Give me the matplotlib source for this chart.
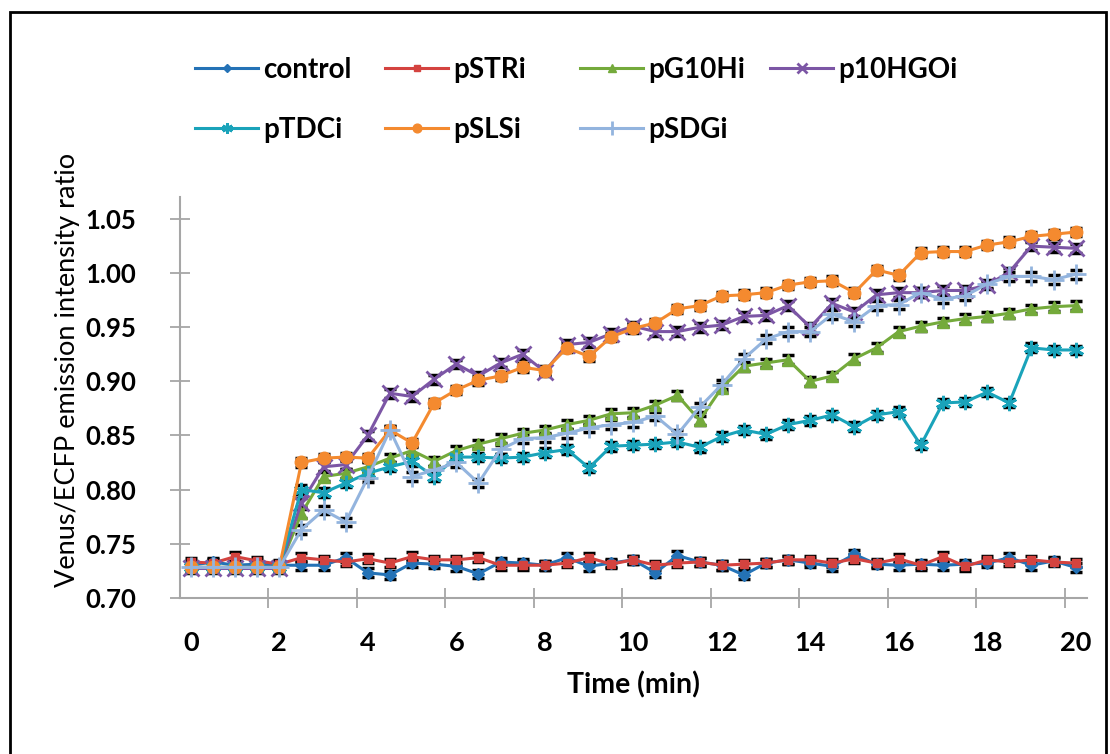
import matplotlib
matplotlib.use('Agg')
import matplotlib.pyplot as plt
import numpy as np
from matplotlib.patches import Rectangle

plt.rcParams['font.family'] = ['Lato', 'DejaVu Sans']

# time points (min), one every 0.5 min
time = [i * 0.5 for i in range(41)]

control = [0.730, 0.733, 0.730, 0.731, 0.730, 0.730, 0.730, 0.737, 0.723, 0.721,
           0.732, 0.731, 0.729, 0.722, 0.733, 0.732, 0.730, 0.737, 0.729, 0.732,
           0.735, 0.723, 0.739, 0.733, 0.730, 0.721, 0.732, 0.735, 0.732, 0.729,
           0.740, 0.731, 0.730, 0.731, 0.730, 0.731, 0.732, 0.737, 0.730, 0.734,
           0.728]
pSTRi = [0.733, 0.732, 0.738, 0.734, 0.731, 0.737, 0.735, 0.733, 0.736, 0.732,
         0.738, 0.735, 0.735, 0.737, 0.730, 0.730, 0.730, 0.732, 0.737, 0.731,
         0.735, 0.730, 0.732, 0.733, 0.730, 0.731, 0.732, 0.735, 0.735, 0.732,
         0.736, 0.732, 0.736, 0.730, 0.738, 0.729, 0.735, 0.733, 0.735, 0.733,
         0.732]
pG10Hi = [0.728, 0.728, 0.728, 0.728, 0.728, 0.778, 0.812, 0.815, 0.821, 0.829,
          0.836, 0.826, 0.836, 0.842, 0.847, 0.852, 0.855, 0.860, 0.864, 0.870,
          0.871, 0.878, 0.887, 0.864, 0.894, 0.914, 0.917, 0.920, 0.900, 0.905,
          0.921, 0.931, 0.946, 0.951, 0.955, 0.958, 0.960, 0.963, 0.967, 0.969,
          0.970]
p10HGOi = [0.727, 0.727, 0.727, 0.727, 0.727, 0.788, 0.821, 0.823, 0.850, 0.889,
           0.886, 0.902, 0.916, 0.905, 0.917, 0.925, 0.909, 0.934, 0.936, 0.944,
           0.951, 0.946, 0.946, 0.950, 0.952, 0.960, 0.961, 0.970, 0.950, 0.972,
           0.964, 0.980, 0.982, 0.982, 0.984, 0.984, 0.989, 1.001, 1.025, 1.024,
           1.023]
pTDCi = [0.728, 0.728, 0.728, 0.728, 0.728, 0.800, 0.797, 0.806, 0.815, 0.821,
         0.826, 0.812, 0.830, 0.830, 0.829, 0.830, 0.834, 0.837, 0.820, 0.840,
         0.841, 0.842, 0.844, 0.839, 0.849, 0.855, 0.851, 0.860, 0.864, 0.869,
         0.858, 0.869, 0.872, 0.841, 0.880, 0.881, 0.890, 0.880, 0.931, 0.929,
         0.929]
pSLSi = [0.728, 0.728, 0.728, 0.728, 0.728, 0.825, 0.829, 0.830, 0.829, 0.855,
         0.843, 0.880, 0.892, 0.901, 0.905, 0.913, 0.910, 0.931, 0.923, 0.941,
         0.949, 0.954, 0.967, 0.970, 0.979, 0.980, 0.982, 0.989, 0.992, 0.993,
         0.982, 1.003, 0.998, 1.019, 1.020, 1.020, 1.026, 1.029, 1.034, 1.036,
         1.038]
pSDGi = [0.728, 0.728, 0.728, 0.728, 0.728, 0.763, 0.781, 0.770, 0.811, 0.855,
         0.812, 0.818, 0.825, 0.806, 0.837, 0.847, 0.848, 0.852, 0.857, 0.860,
         0.862, 0.868, 0.851, 0.876, 0.897, 0.921, 0.939, 0.946, 0.946, 0.962,
         0.955, 0.970, 0.971, 0.982, 0.976, 0.979, 0.990, 0.997, 0.997, 0.994,
         0.999]

names = ['control', 'pSTRi', 'pG10Hi', 'p10HGOi', 'pTDCi', 'pSLSi', 'pSDGi']
series = [control, pSTRi, pG10Hi, p10HGOi, pTDCi, pSLSi, pSDGi]
errs = [0.004, 0.004, 0.004, 0.004, 0.004, 0.004, 0.004]

colors = ['#2472B6', '#D4433F', '#74AA3B', '#7C56A5', '#1AA3BA', '#F48A2F', '#93B4DE']
markers = ['D', 's', '^', 'x', (6, 2, 0), 'o', '+']
msizes = [6, 6, 8, 11, 11, 9, 15]

fig = plt.figure(figsize=(11.1, 7.54), dpi=100)
ax = fig.add_axes([0.162, 0.2073, 0.817, 0.5314])

handles = {}
for name, y, e, c, m, s in zip(names, series, errs, colors, markers, msizes):
    ax.errorbar(time, y, yerr=e, fmt='none', ecolor='black', elinewidth=1.2,
                capsize=4, capthick=2.5, zorder=2)
    h, = ax.plot(time, y, color=c, lw=2.2, marker=m, ms=s, mew=2 if m in ('x', '+', (6, 2, 0)) else 1,
                 mec=c, mfc=c, zorder=3, label=name)
    handles[name] = h

ax.set_xlim(-0.25, 20.25)
ax.set_ylim(0.70, 1.0704)
ax.set_xticks(range(0, 21, 2))
ax.set_xticklabels([str(t) for t in range(0, 21, 2)])
ax.set_xticks(np.arange(1.75, 20, 2), minor=True)
ax.tick_params(axis='x', which='major', length=0, pad=24, labelsize=19.5)
ax.tick_params(axis='x', which='minor', direction='inout', length=15, width=1.3, color='#A6A6A6')
ax.set_yticks(np.arange(0.70, 1.051, 0.05))
ax.set_yticklabels(['%.2f' % v for v in np.arange(0.70, 1.051, 0.05)])
ax.tick_params(axis='y', direction='inout', length=15, width=1.3, color='#A6A6A6', pad=24, labelsize=18.5)
for lab in ax.get_xticklabels() + ax.get_yticklabels():
    lab.set_fontweight('bold')

for side in ['top', 'right']:
    ax.spines[side].set_visible(False)
for side in ['left', 'bottom']:
    ax.spines[side].set_color('#A6A6A6')
    ax.spines[side].set_linewidth(1.5)

ax.set_xlabel('Time (min)', fontsize=20.5, fontweight='bold', labelpad=12)
ax.set_ylabel('Venus/ECFP emission intensity ratio', fontsize=19.5)
ax.yaxis.set_label_coords(-0.11, 0.569)

# legend: four columns placed like the reference, two rows
columns = [['control', 'pTDCi'], ['pSTRi', 'pSLSi'], ['pG10Hi', 'pSDGi'], ['p10HGOi']]
col_x = [195, 385, 580, 770]
for col, px in zip(columns, col_x):
    fig.legend([handles[n] for n in col], col, loc='upper left',
               bbox_to_anchor=(px / 1110, 1 - 57 / 754), ncol=1, frameon=False,
               prop={'size': 20, 'weight': 'bold'}, handlelength=2.27,
               handletextpad=0.18, labelspacing=1.21, borderpad=0,
               borderaxespad=0, markerscale=0.7)

fig.patches.append(Rectangle((0.009, -0.05), 0.987, 1.034, transform=fig.transFigure,
                             fill=False, edgecolor='black', lw=2))

fig.savefig('out.png', dpi=100)
